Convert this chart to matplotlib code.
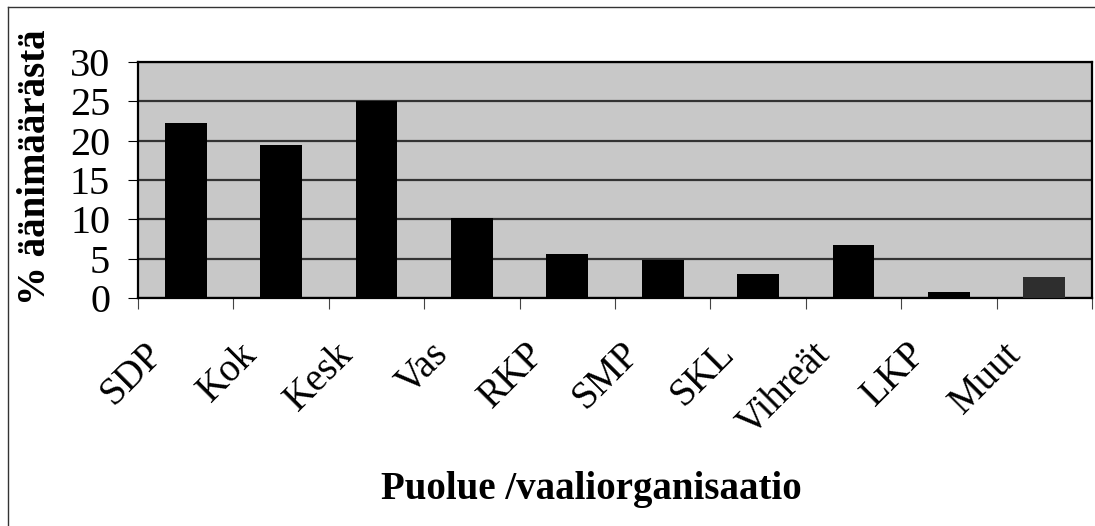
'''
Vote share by party, bar chart in the style of an old Excel printout
'''
import matplotlib
matplotlib.use('Agg')
import matplotlib.pyplot as plt
import matplotlib.transforms as mtransforms
from matplotlib.lines import Line2D
from matplotlib.ticker import FixedLocator, NullFormatter

parties = ['SDP', 'Kok', 'Kesk', 'Vas', 'RKP', 'SMP', 'SKL', 'Vihreät', 'LKP', 'Muut']
shares = [22.3, 19.5, 25.0, 10.2, 5.6, 4.8, 3.1, 6.8, 0.8, 2.7]
yTicks = [0, 5, 10, 15, 20, 25, 30]

plt.rcParams['font.family'] = ['Liberation Serif', 'DejaVu Serif']

fig = plt.figure(figsize=(10.95, 5.26), dpi=100, facecolor='w')
ax = fig.add_axes([138 / 1095, 1 - 298 / 526, 954 / 1095, 236 / 526])
ax.set_facecolor('#c8c8c8')

# ---- bars
xs = list(range(len(parties)))
colours = ['black'] * (len(parties) - 1) + ['#2e2e2e']
ax.bar(xs, shares, width=0.44, color=colours, zorder=3)

# ---- axes
ax.set_xlim(-0.5, len(parties) - 0.5)
ax.set_ylim(0, 30)
ax.set_yticks(yTicks)
ax.yaxis.grid(True, color='#333333', linewidth=1.6, zorder=1)
ax.set_axisbelow(True)
ax.tick_params(axis='y', labelsize=29, length=7, width=0.8, pad=13, direction='out')

ax.xaxis.set_major_locator(FixedLocator([i - 0.5 for i in range(len(parties) + 1)]))
ax.xaxis.set_major_formatter(NullFormatter())
ax.xaxis.set_minor_locator(FixedLocator(xs))
ax.set_xticklabels(parties, minor=True)
ax.tick_params(axis='x', which='major', length=8, width=0.8, color='#444444')
ax.tick_params(axis='x', which='minor', length=0, labelsize=28, pad=27)
shift = mtransforms.ScaledTranslation(-0.16, 0, fig.dpi_scale_trans)
for lab in ax.get_xticklabels(minor=True):
    lab.set_rotation(45)
    lab.set_ha('right')
    lab.set_va('top')
    lab.set_transform(lab.get_transform() + shift)

for side in ['left', 'right', 'top', 'bottom']:
    ax.spines[side].set_color('black')
    ax.spines[side].set_linewidth(1.6)

# ---- labels
ax.set_ylabel('% äänimäärästä', fontsize=28, fontweight='bold', va='center')
ax.yaxis.set_label_coords(-0.107, 0.555)
ax.set_xlabel('Puolue /vaaliorganisaatio', fontsize=28, fontweight='bold', va='center')
ax.xaxis.set_label_coords(0.475, -0.81)

# ---- page frame (left and top edges)
fx = 8 / 1095
fy = 1 - 7 / 526
fig.add_artist(Line2D([fx, fx], [0, fy], transform=fig.transFigure, color='#333333', linewidth=1))
fig.add_artist(Line2D([fx, 1], [fy, fy], transform=fig.transFigure, color='#333333', linewidth=1))

plt.savefig('out.png', dpi=100)
plt.close()
